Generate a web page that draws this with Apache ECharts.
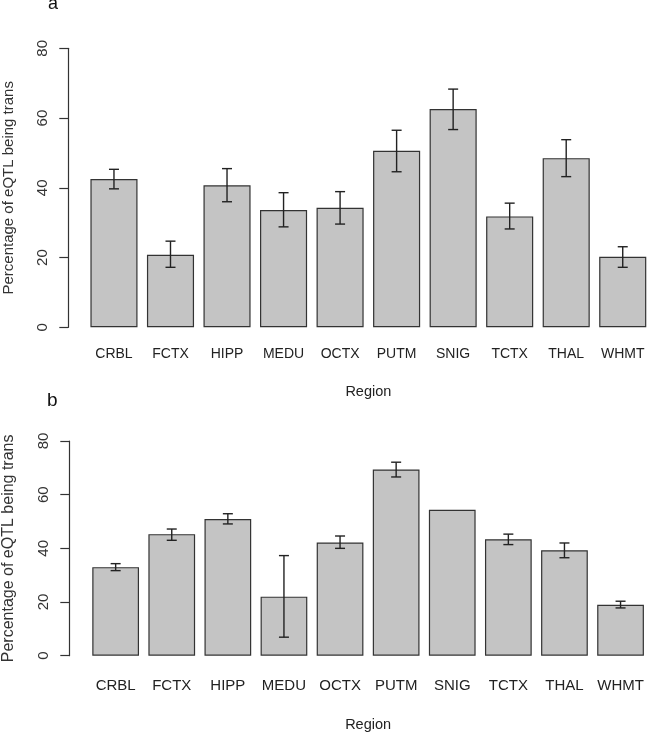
<!DOCTYPE html>
<html>
<head>
<meta charset="utf-8">
<script src="https://cdn.jsdelivr.net/npm/echarts@6/dist/echarts.min.js"></script>
<style>
html,body{margin:0;padding:0;background:#fff;}
#chart{width:647px;height:735px;}
</style>
</head>
<body>
<div id="chart"></div>
<script>
const categories = ['CRBL','FCTX','HIPP','MEDU','OCTX','PUTM','SNIG','TCTX','THAL','WHMT'];
const valuesA = [42.5, 20.8, 40.7, 33.6, 34.3, 50.6, 62.6, 31.8, 48.5, 20.2];
const lowerA  = [39.7, 17.2, 36.0, 28.8, 29.6, 44.6, 56.7, 28.2, 43.2, 17.2];
const upperA  = [45.3, 24.7, 45.5, 38.6, 38.9, 56.5, 68.3, 35.6, 53.8, 23.1];
const valuesB = [33.0, 45.3, 50.9, 22.0, 42.2, 69.4, 54.4, 43.4, 39.3, 19.0];
const lowerB  = [31.7, 43.0, 49.1, 6.9, 40.0, 66.6, null, 41.4, 36.5, 17.8];
const upperB  = [34.3, 47.2, 52.9, 37.3, 44.6, 72.1, null, 45.3, 42.0, 20.3];
const yTicks = [0, 20, 40, 60, 80];
const yTitle = 'Percentage of eQTL being trans';
const xTitle = 'Region';

const FONT = '"Liberation Sans", Arial, sans-serif';
const chart = echarts.init(document.getElementById('chart'), null, {renderer: 'canvas'});

function errData(lo, hi) {
  const out = [];
  for (let i = 0; i < categories.length; i++) {
    if (lo[i] != null && hi[i] != null) out.push([i, lo[i], hi[i]]);
  }
  return out;
}
function renderErr(params, api) {
  const x = api.value(0);
  const lo = api.coord([x, api.value(1)]);
  const hi = api.coord([x, api.value(2)]);
  const half = 5;
  const st = {stroke: '#222', lineWidth: 1.4};
  return {
    type: 'group',
    children: [
      {type: 'line', shape: {x1: lo[0], y1: hi[1], x2: lo[0], y2: lo[1]}, style: st},
      {type: 'line', shape: {x1: lo[0]-half, y1: hi[1], x2: lo[0]+half, y2: hi[1]}, style: st},
      {type: 'line', shape: {x1: lo[0]-half, y1: lo[1], x2: lo[0]+half, y2: lo[1]}, style: st}
    ]
  };
}
function yAxisCfg(gi, offset, gap, fs, nfs) {
  return {
    type: 'value', gridIndex: gi, min: 0, max: 80, interval: 20, offset: offset,
    axisLine: {show: true, lineStyle: {color: '#333', width: 1.2}},
    axisTick: {show: true, length: 9, lineStyle: {color: '#333', width: 1.2}},
    splitLine: {show: false},
    axisLabel: {rotate: 90, fontSize: fs, color: '#333', fontFamily: FONT, margin: 18,
      formatter: v => (yTicks.indexOf(v) >= 0 ? String(v) : '')},
    name: yTitle, nameLocation: 'middle', nameRotate: 90, nameGap: gap,
    nameTextStyle: {fontSize: nfs, color: '#333', fontFamily: FONT}
  };
}
function xAxisCfg(gi, margin, gap, fs) {
  return {
    type: 'category', gridIndex: gi, data: categories,
    axisLine: {show: false}, axisTick: {show: false}, splitLine: {show: false},
    axisLabel: {fontSize: fs, color: '#222', fontFamily: FONT, margin: margin, interval: 0},
    name: xTitle, nameLocation: 'middle', nameGap: gap,
    nameTextStyle: {fontSize: 14.5, color: '#222', fontFamily: FONT}
  };
}
const barStyle = {color: '#c4c4c4', borderColor: '#333', borderWidth: 1.2};

chart.setOption({
  animation: false,
  backgroundColor: '#fff',
  grid: [
    {left: 85.7, width: 565.3, top: 48.3, height: 279, containLabel: false, outerBoundsMode: 'none'},
    {left: 87.6, width: 561, top: 441, height: 214.7, containLabel: false, outerBoundsMode: 'none'}
  ],
  xAxis: [xAxisCfg(0, 20, 57, 14), xAxisCfg(1, 23, 62, 15)],
  yAxis: [yAxisCfg(0, 17.4, 52, 15, 15), yAxisCfg(1, 18.3, 53, 15, 16)],
  graphic: [
    {type: 'text', left: 48, top: -5, style: {text: 'a', fontSize: 18, fill: '#111', fontFamily: FONT}},
    {type: 'text', left: 47, top: 391, style: {text: 'b', fontSize: 19, fill: '#111', fontFamily: FONT}}
  ],
  series: [
    {type: 'bar', xAxisIndex: 0, yAxisIndex: 0, data: valuesA, barCategoryGap: '16.7%', itemStyle: barStyle, silent: true},
    {type: 'custom', xAxisIndex: 0, yAxisIndex: 0, data: errData(lowerA, upperA), renderItem: renderErr, silent: true, z: 5},
    {type: 'bar', xAxisIndex: 1, yAxisIndex: 1, data: valuesB, barCategoryGap: '16.7%', itemStyle: barStyle, silent: true},
    {type: 'custom', xAxisIndex: 1, yAxisIndex: 1, data: errData(lowerB, upperB), renderItem: renderErr, silent: true, z: 5}
  ]
});
</script>
</body>
</html>
